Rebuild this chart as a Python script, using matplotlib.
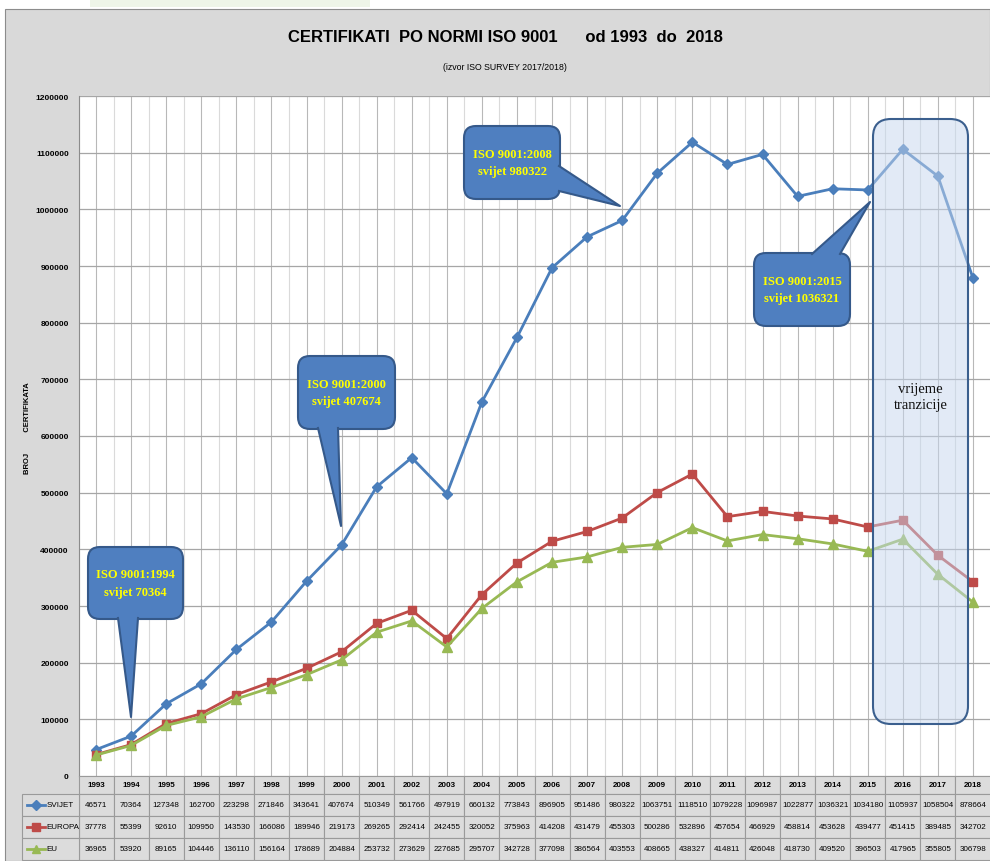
import matplotlib
matplotlib.use("Agg")
import matplotlib.pyplot as plt
from matplotlib import font_manager
from matplotlib.patches import FancyBboxPatch, Polygon, Rectangle
from matplotlib.lines import Line2D
from matplotlib.transforms import IdentityTransform

years = list(range(1993, 2019))
svijet = [46571, 70364, 127348, 162700, 223298, 271846, 343641, 407674, 510349, 561766,
          497919, 660132, 773843, 896905, 951486, 980322, 1063751, 1118510, 1079228, 1096987,
          1022877, 1036321, 1034180, 1105937, 1058504, 878664]
europa = [37778, 55399, 92610, 109950, 143530, 166086, 189946, 219173, 269265, 292414,
          242455, 320052, 375963, 414208, 431479, 455303, 500286, 532896, 457654, 466929,
          458814, 453628, 439477, 451415, 389485, 342702]
eu = [36965, 53920, 89165, 104446, 136110, 156164, 178689, 204884, 253732, 273629,
      227685, 295707, 342728, 377098, 386564, 403553, 408665, 438327, 414811, 426048,
      418730, 409520, 396503, 417965, 355805, 306798]
series_names = ["SVIJET", "EUROPA", "EU"]
yticks = list(range(0, 1200001, 100000))

SANS = "Liberation Sans"
SERIF = "Liberation Serif"

W, H = 990, 862
fig = plt.figure(figsize=(W / 100, H / 100), dpi=100)
fig.patch.set_facecolor("white")

# chart area background
bg = fig.add_axes([0, 0, 1, 1])
bg.set_xlim(0, W)
bg.set_ylim(H, 0)
bg.axis("off")
bg.add_patch(Rectangle((5, 10), W - 5, H - 10, facecolor="#d9d9d9", edgecolor="#8c8c8c", lw=0.8))
bg.add_patch(Rectangle((90, 0), 280, 8, facecolor="#eef5e8", edgecolor="none"))

left_px, right_px, top_px, bot_px = 78.5, 990.5, 97, 777
ax = fig.add_axes([left_px / W, (H - bot_px) / H, (right_px - left_px) / W, (bot_px - top_px) / H])
ax.set_facecolor("white")
ax.set_xlim(-0.5, len(years) - 0.5)
ax.set_ylim(0, 1200000)
xs = list(range(len(years)))

# gridlines
for i in xs:
    ax.axvline(i, color="#b8b8b8", lw=0.8, zorder=1)
    ax.axvline(i - 0.5, color="#dadada", lw=0.8, zorder=1)
for v in yticks[1:]:
    ax.axhline(v, color="#a6a6a6", lw=0.9, zorder=1)

ax.set_yticks(yticks)
ax.set_yticklabels([str(v) for v in yticks], fontsize=6, family=SANS, fontweight="bold")
ax.tick_params(axis="y", length=0, pad=7)
ax.set_xticks([])
for s in ["top", "right"]:
    ax.spines[s].set_visible(False)
ax.spines["left"].set_color("#8c8c8c")
ax.spines["bottom"].set_color("#8c8c8c")

colors = ["#4a7ebb", "#be4b48", "#98b954"]
markers = ["D", "s", "^"]
msizes = [5, 6.3, 6.5]
datas = [svijet, europa, eu]
for d, c, m, ms in zip(datas, colors, markers, msizes):
    ax.plot(xs, d, color=c, lw=2, marker=m, markersize=ms, markerfacecolor=c,
            markeredgecolor=c, zorder=5)

fig.canvas.draw()


def px(x, y):
    return ax.transData.transform((x, y))


def data_from_px(xp, yp):
    # convert reference pixel coords (top-left origin) into data
    return ax.transData.inverted().transform((xp, H - yp))


def callout(box, base, tip, text):
    (x0, y0), (x1, y1) = px(*box[0]), px(*box[1])
    bx, by = min(x0, x1), min(y0, y1)
    bw, bh = abs(x1 - x0), abs(y1 - y0)
    face = "#4f7fc0"
    edge = "#35598a"
    fig.add_artist(FancyBboxPatch((bx, by), bw, bh, boxstyle="round,pad=0,rounding_size=12",
                                  transform=IdentityTransform(), facecolor=face, edgecolor=edge,
                                  lw=1.5, zorder=10))
    b1, b2 = px(*base[0]), px(*base[1])
    t = px(*tip)
    cx, cy = bx + bw / 2, by + bh / 2
    in1 = (b1[0] + (cx - b1[0]) * 0.08, b1[1] + (cy - b1[1]) * 0.08)
    in2 = (b2[0] + (cx - b2[0]) * 0.08, b2[1] + (cy - b2[1]) * 0.08)
    fig.add_artist(Polygon([in1, b1, t, b2, in2], closed=True, transform=IdentityTransform(),
                           facecolor=face, edgecolor="none", zorder=11))
    fig.add_artist(Line2D([b1[0], t[0], b2[0]], [b1[1], t[1], b2[1]], color=edge, lw=1.5,
                          transform=IdentityTransform(), zorder=12))
    fig.text((bx + bw / 2) / W, (by + bh / 2) / H, text, ha="center", va="center",
             color="#ffff00", fontsize=9, family=SERIF, fontweight="bold", zorder=13,
             linespacing=1.6)


callout((data_from_px(88, 548), data_from_px(183, 620)),
        (data_from_px(118, 619), data_from_px(138, 619)), data_from_px(131, 718),
        "ISO 9001:1994\nsvijet 70364")
callout((data_from_px(298, 357), data_from_px(395, 430)),
        (data_from_px(318, 429), data_from_px(338, 429)), data_from_px(341, 527),
        "ISO 9001:2000\nsvijet 407674")
callout((data_from_px(464, 127), data_from_px(560, 200)),
        (data_from_px(559, 167), data_from_px(559, 192)), data_from_px(620, 207),
        "ISO 9001:2008\nsvijet 980322")
callout((data_from_px(754, 254), data_from_px(850, 327)),
        (data_from_px(812, 255), data_from_px(840, 255)), data_from_px(870, 203),
        "ISO 9001:2015\nsvijet 1036321")

# transition period box
(tx0, ty0) = px(*data_from_px(873, 725))
(tx1, ty1) = px(*data_from_px(968, 120))
fig.add_artist(FancyBboxPatch((tx0, ty0), tx1 - tx0, ty1 - ty0,
                              boxstyle="round,pad=0,rounding_size=18",
                              transform=IdentityTransform(), facecolor="#c6d7ee", alpha=0.5,
                              edgecolor="none", zorder=14))
fig.add_artist(FancyBboxPatch((tx0, ty0), tx1 - tx0, ty1 - ty0,
                              boxstyle="round,pad=0,rounding_size=18",
                              transform=IdentityTransform(), facecolor="none",
                              edgecolor="#3b5f8e", lw=1.5, zorder=15))
fig.text(((tx0 + tx1) / 2) / W, (H - 398) / H, "vrijeme\ntranzicije", ha="center", va="center",
         fontsize=10.5, family=SERIF, color="#111111", zorder=16, linespacing=1.3)

# titles
fig.text(505 / W, 1 - 37 / H, "CERTIFIKATI  PO NORMI ISO 9001      od 1993  do  2018",
         ha="center", va="center", fontsize=12, fontweight="bold", family=SANS)
fig.text(505 / W, 1 - 68 / H, "(izvor ISO SURVEY 2017/2018)", ha="center", va="center",
         fontsize=6.3, family=SANS)
fig.text(28 / W, 1 - 428 / H, "BROJ          CERTIFIKATA", rotation=90, ha="center", va="center",
         fontsize=5.5, fontweight="bold", family=SANS)

# data table
tab = fig.add_axes([left_px / W, 0, (right_px - left_px) / W, (H - bot_px) / H])
tab.set_xlim(-0.5, len(years) - 0.5)
tab.set_ylim(85, 0)
tab.axis("off")
row_edges = [0, 18, 40, 62, 84]
lg_left = -0.5 - 56.5 / 35.08
grid_c = "#9a9a9a"
for i in xs:
    for r in range(4):
        tab.add_patch(Rectangle((i - 0.5, row_edges[r]), 1, row_edges[r + 1] - row_edges[r],
                                facecolor="#dcdcdc", edgecolor=grid_c, lw=0.8, clip_on=False))
for r in range(1, 4):
    tab.add_patch(Rectangle((lg_left, row_edges[r]), -0.5 - lg_left, row_edges[r + 1] - row_edges[r],
                            facecolor="#dcdcdc", edgecolor=grid_c, lw=0.8, clip_on=False))
fs_tab = 5.8
for i, yv in enumerate(years):
    tab.text(i, (row_edges[0] + row_edges[1]) / 2, str(yv), ha="center", va="center",
             fontsize=fs_tab, family=SANS, fontweight="bold")
    for r, d in enumerate(datas):
        tab.text(i, (row_edges[r + 1] + row_edges[r + 2]) / 2, str(d[i]), ha="center", va="center",
                 fontsize=fs_tab, family=SANS)
for r, (name, c, m) in enumerate(zip(series_names, colors, markers)):
    yc = (row_edges[r + 1] + row_edges[r + 2]) / 2
    x_a = lg_left + 0.15
    x_b = lg_left + 0.65
    tab.plot([x_a, x_b], [yc, yc], color=c, lw=2, clip_on=False)
    tab.plot([(x_a + x_b) / 2], [yc], marker=m, color=c, markersize=5.5, clip_on=False)
    tab.text(x_b + 0.05, yc, name, ha="left", va="center", fontsize=fs_tab, family=SANS)

fig.savefig("out.png", dpi=100, facecolor=fig.get_facecolor())
